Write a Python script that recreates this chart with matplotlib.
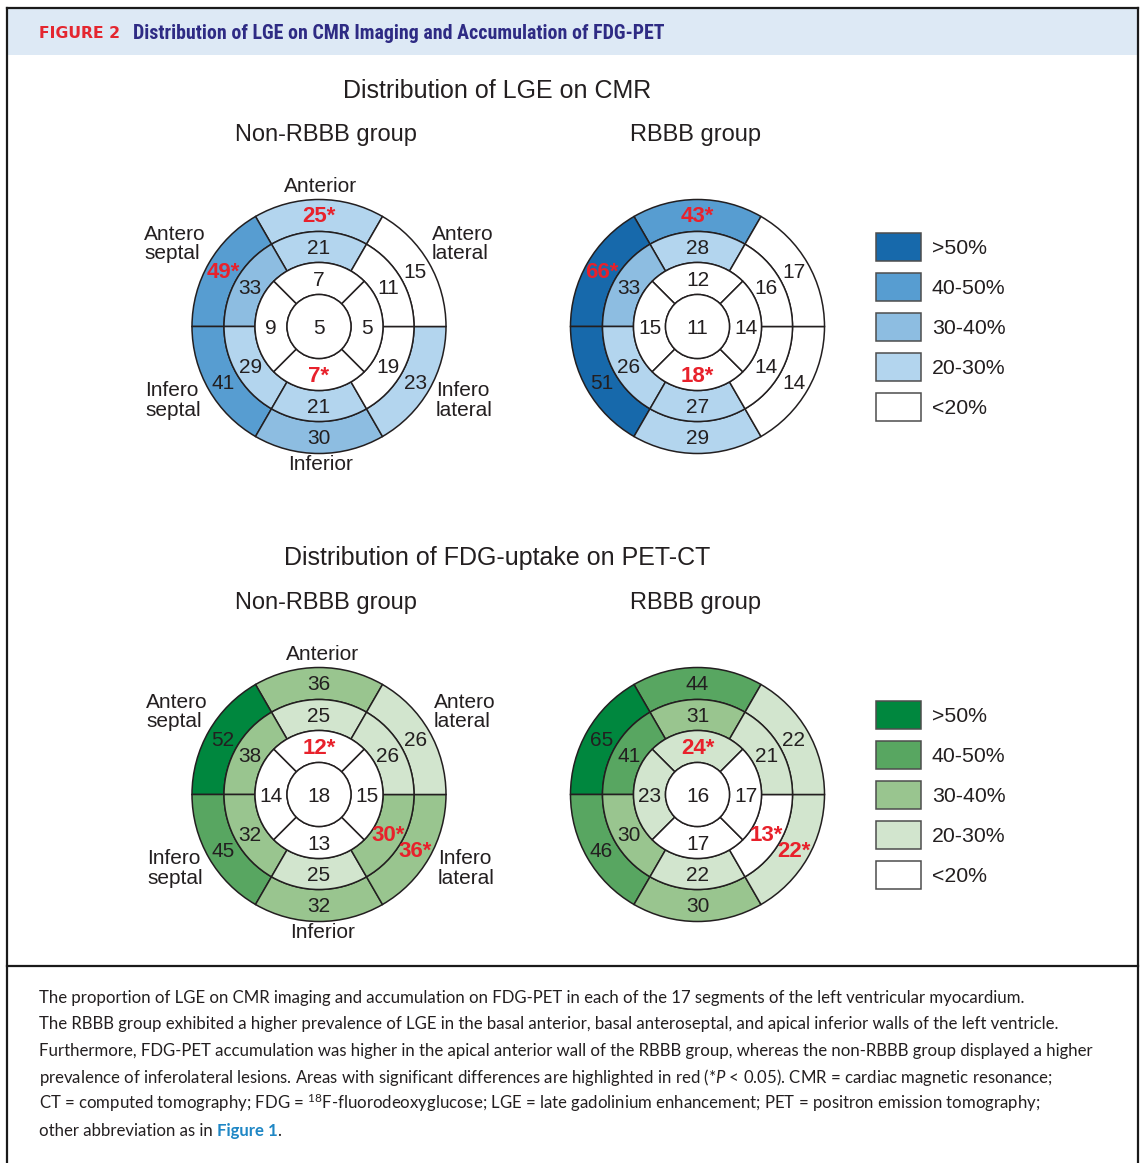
import matplotlib
matplotlib.use("Agg")
import numpy as np
import matplotlib.pyplot as plt
from matplotlib.patches import Wedge, Circle, Rectangle
from matplotlib.lines import Line2D
from matplotlib import font_manager

W, H = 1144, 1163

# ring order for basal / mid: anterior, anteroseptal, inferoseptal, inferior, inferolateral, anterolateral
# apical: anterior, septal, inferior, lateral
lge_non_basal = [25, 49, 41, 30, 23, 15]
lge_non_mid = [21, 33, 29, 21, 19, 11]
lge_non_apical = [7, 9, 7, 5]
lge_non_apex = 5

lge_rbbb_basal = [43, 66, 51, 29, 14, 17]
lge_rbbb_mid = [28, 33, 26, 27, 14, 16]
lge_rbbb_apical = [12, 15, 18, 14]
lge_rbbb_apex = 11

fdg_non_basal = [36, 52, 45, 32, 36, 26]
fdg_non_mid = [25, 38, 32, 25, 30, 26]
fdg_non_apical = [12, 14, 13, 15]
fdg_non_apex = 18

fdg_rbbb_basal = [44, 65, 46, 30, 22, 22]
fdg_rbbb_mid = [31, 41, 30, 22, 13, 21]
fdg_rbbb_apical = [24, 23, 17, 17]
fdg_rbbb_apex = 16

# segments marked * (P < 0.05)
lge_sig_basal = [True, True, False, False, False, False]
lge_sig_mid = [False, False, False, False, False, False]
lge_sig_apical = [False, False, True, False]
fdg_sig_basal = [False, False, False, False, True, False]
fdg_sig_mid = [False, False, False, False, True, False]
fdg_sig_apical = [True, False, False, False]

bin_edges = [20, 30, 40, 50]
bin_labels = ['<20%', '20-30%', '30-40%', '40-50%', '>50%']
blues = ['#ffffff', '#b3d5ee', '#8dbde1', '#579dd1', '#1769ab']
greens = ['#ffffff', '#d2e5ce', '#99c58f', '#58a661', '#00873e']

region_names = ['Anterior', 'Antero\nseptal', 'Antero\nlateral',
                'Infero\nseptal', 'Infero\nlateral', 'Inferior']

caption_lines = [
    "The proportion of LGE on CMR imaging and accumulation on FDG-PET in each of the 17 segments of the left ventricular myocardium.",
    "The RBBB group exhibited a higher prevalence of LGE in the basal anterior, basal anteroseptal, and apical inferior walls of the left ventricle.",
    "Furthermore, FDG-PET accumulation was higher in the apical anterior wall of the RBBB group, whereas the non-RBBB group displayed a higher",
    r"prevalence of inferolateral lesions. Areas with significant differences are highlighted in red (*$\mathit{P}$ < 0.05). CMR = cardiac magnetic resonance;",
    r"CT = computed tomography; FDG = $^{18}$F-fluorodeoxyglucose; LGE = late gadolinium enhancement; PET = positron emission tomography;",
    "other abbreviation as in",
]

INK = '#231f20'
RED = '#e8212b'
LINE = '#231f20'
radii = [32, 64, 95, 127]
DY = 1.5  # matplotlib's centre sits a touch high for these glyphs

avail = {f.name for f in font_manager.fontManager.ttflist}
head_font = next((n for n in ['Liberation Sans Narrow', 'Roboto Condensed', 'Roboto'] if n in avail), 'DejaVu Sans')
cap_font = next((n for n in ['Lato', 'Open Sans', 'Noto Sans'] if n in avail), 'DejaVu Sans')

plt.rcParams['font.family'] = ['Liberation Sans', 'DejaVu Sans']
plt.rcParams['mathtext.fontset'] = 'custom'
plt.rcParams['mathtext.rm'] = cap_font
plt.rcParams['mathtext.it'] = cap_font + ':italic'
plt.rcParams['mathtext.bf'] = cap_font + ':bold'

fig = plt.figure(figsize=(W / 100, H / 100), dpi=100)
ax = fig.add_axes([0, 0, 1, 1])
ax.set_xlim(0, W)
ax.set_ylim(H, 0)
ax.axis('off')
renderer = fig.canvas.get_renderer()


def seg_color(v, pal):
    return pal[int(np.digitize(v, bin_edges))]


def put_value(x, y, v, sig):
    if sig:
        ax.text(x, y + DY, f'{v}*', color=RED, fontsize=16, fontweight='bold', ha='center', va='center')
    else:
        ax.text(x, y + DY, str(v), color=INK, fontsize=15, ha='center', va='center')


def bullseye(cx, cy, basal, mid, apical, apex, sig_b, sig_m, sig_a, pal):
    rings = [(basal, sig_b, radii[2], radii[3], 60, 60),
             (mid, sig_m, radii[1], radii[2], 60, 60),
             (apical, sig_a, radii[0], radii[1], 45, 90)]
    for vals, sig, r0, r1, start, step in rings:
        for i, v in enumerate(vals):
            a1 = start + step * i
            a2 = a1 + step
            # y axis is flipped, so screen angles are negated
            ax.add_patch(Wedge((cx, cy), r1, -a2, -a1, width=r1 - r0,
                               facecolor=seg_color(v, pal), edgecolor=LINE, lw=1.1))
            am = np.radians((a1 + a2) / 2)
            rm = (r0 + r1) / 2
            put_value(cx + rm * np.cos(am), cy - rm * np.sin(am), v, sig[i])
    ax.add_patch(Circle((cx, cy), radii[0], facecolor=seg_color(apex, pal), edgecolor=LINE, lw=1.1))
    put_value(cx, cy, apex, False)


def region_labels(cx, cy):
    kw = dict(fontsize=15, color=INK, va='center')
    ax.text(cx + 2, cy - 142 + DY, region_names[0], ha='center', **kw)
    ax.text(cx + 2, cy + 137 + DY, region_names[5], ha='center', **kw)
    for name, dx, dy in [(region_names[1], -175, -94), (region_names[2], 113, -94),
                         (region_names[3], -174, 63), (region_names[4], 117, 63)]:
        top, bottom = name.split('\n')
        ax.text(cx + dx, cy + dy + DY, top, ha='left', **kw)
        ax.text(cx + dx, cy + dy + 19.5 + DY, bottom, ha='left', **kw)


def legend(x, cy, pal):
    for k in range(5):
        idx = 4 - k
        y = cy - 80 + 40 * k
        ax.add_patch(Rectangle((x, y - 14), 45, 28, facecolor=pal[idx], edgecolor='#4d4d4d', lw=1.1))
        ax.text(x + 56, y + DY, bin_labels[idx], fontsize=15.3, color=INK, ha='left', va='center')


# header band and frame
ax.add_patch(Rectangle((8, 9), 1129, 46, facecolor='#dde9f5', edgecolor='none'))
for xs, ys in [([7, 7], [8, H + 5]), ([1138, 1138], [8, H + 5]), ([7, 1138], [8, 8]), ([7, 1138], [966, 966])]:
    ax.add_line(Line2D(xs, ys, color='#1a1a1a', lw=1.6))

t = ax.text(39, 33.5, 'FIGURE 2', color='#e4262f', fontsize=10, fontweight='bold',
            family='DejaVu Sans', ha='left', va='center')
t.set_fontsize(10 * 81 / t.get_window_extent(renderer).width)
t = ax.text(133, 33.5, 'Distribution of LGE on CMR Imaging and Accumulation of FDG-PET', color='#2e2b84',
            fontsize=11, fontweight='bold', family=head_font, ha='left', va='center')
t.set_fontsize(11 * 525 / t.get_window_extent(renderer).width)

# top row: LGE
ax.text(497, 90 + DY, 'Distribution of LGE on CMR', fontsize=18, color=INK, ha='center', va='center')
ax.text(326, 134 + DY, 'Non-RBBB group', fontsize=17, color=INK, ha='center', va='center')
ax.text(696, 134 + DY, 'RBBB group', fontsize=17, color=INK, ha='center', va='center')
bullseye(319, 326.5, lge_non_basal, lge_non_mid, lge_non_apical, lge_non_apex,
         lge_sig_basal, lge_sig_mid, lge_sig_apical, blues)
bullseye(697.5, 326.5, lge_rbbb_basal, lge_rbbb_mid, lge_rbbb_apical, lge_rbbb_apex,
         lge_sig_basal, lge_sig_mid, lge_sig_apical, blues)
region_labels(319, 326.5)
legend(876, 326.5, blues)

# bottom row: FDG
ax.text(497, 557 + DY, 'Distribution of FDG-uptake on PET-CT', fontsize=18, color=INK, ha='center', va='center')
ax.text(326, 601 + DY, 'Non-RBBB group', fontsize=17, color=INK, ha='center', va='center')
ax.text(696, 601 + DY, 'RBBB group', fontsize=17, color=INK, ha='center', va='center')
bullseye(319, 794.5, fdg_non_basal, fdg_non_mid, fdg_non_apical, fdg_non_apex,
         fdg_sig_basal, fdg_sig_mid, fdg_sig_apical, greens)
bullseye(697.5, 794.5, fdg_rbbb_basal, fdg_rbbb_mid, fdg_rbbb_apical, fdg_rbbb_apex,
         fdg_sig_basal, fdg_sig_mid, fdg_sig_apical, greens)
region_labels(321, 794.5)
legend(876, 794.5, greens)

# caption
probe = ax.text(39, 0, caption_lines[0], fontsize=11, family=cap_font)
cap_size = 11 * 988 / probe.get_window_extent(renderer).width
probe.remove()
last = None
for i, line in enumerate(caption_lines):
    last = ax.text(39, 1002.5 + 26.67 * i, line, fontsize=cap_size, family=cap_font,
                   color=INK, ha='left', va='baseline')
fig_ref = ax.annotate('Figure 1', xy=(1, 0), xycoords=last, xytext=(4, 0), textcoords='offset pixels',
                      fontsize=cap_size, family=cap_font, fontweight='bold', color='#1f87c5',
                      ha='left', va='bottom')
ax.annotate('.', xy=(1, 0), xycoords=fig_ref, fontsize=cap_size, family=cap_font,
            color=INK, ha='left', va='bottom')

fig.savefig('out.png', dpi=100)
